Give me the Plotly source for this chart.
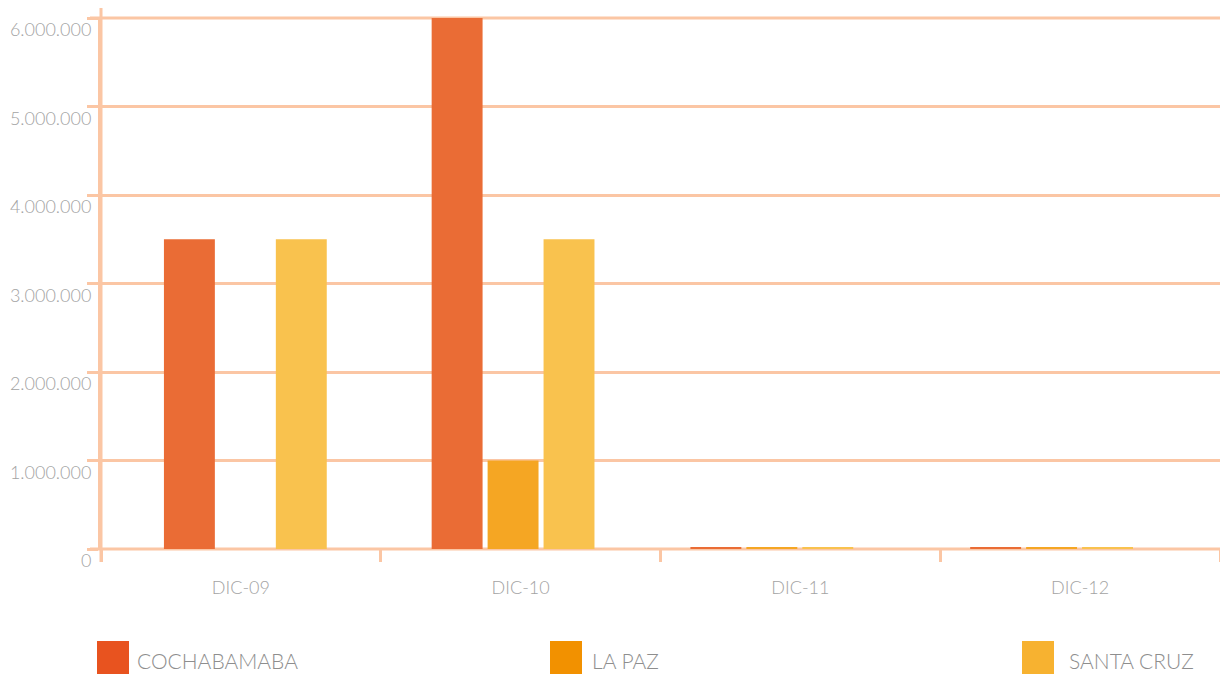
import plotly.graph_objects as go

# Period categories and department series
periods = ["DIC-09", "DIC-10", "DIC-11", "DIC-12"]
cochabamba = [3500000, 6000000, 20000, 20000]
la_paz = [0, 1000000, 20000, 20000]
santa_cruz = [3500000, 3500000, 20000, 20000]

y_ticks = [0, 1000000, 2000000, 3000000, 4000000, 5000000, 6000000]
y_tick_text = ["0", "1.000.000", "2.000.000", "3.000.000", "4.000.000", "5.000.000", "6.000.000"]

series = [
    ("COCHABAMABA", cochabamba, "#EA6C35", "#E8531F"),
    ("LA PAZ", la_paz, "#F5A623", "#F29100"),
    ("SANTA CRUZ", santa_cruz, "#F9C24E", "#F7B230"),
]

# Bar layout within each category (in category-width units)
BAR_W = 0.182
BAR_STEP = 0.2
group_start = [-0.275, -0.318, -0.393, -0.393]

GRID = "#FBC6A4"
TEXT = "#A3A3A3"
FONT = "Lato"
PLOT_W, PLOT_H = 1119, 531

fig = go.Figure()
for i, (name, vals, bar_color, _) in enumerate(series):
    fig.add_trace(go.Bar(
        x=periods, y=vals, name=name, showlegend=False,
        width=BAR_W, offset=[g + i * BAR_STEP for g in group_start],
        marker=dict(color=bar_color, line=dict(width=0)),
    ))

fig.update_layout(
    width=1220, height=674,
    margin=dict(l=101, r=0, t=18, b=125),
    paper_bgcolor="white", plot_bgcolor="white",
    barmode="overlay",
    font=dict(family=FONT, color=TEXT, size=17, weight=300),
)

fig.update_xaxes(
    type="category", showgrid=False, zeroline=False, showline=False,
    range=[-0.5, 3.5],
    ticks="outside", tickson="boundaries", ticklen=12, tickwidth=3, tickcolor=GRID,
    tickfont=dict(family=FONT, size=18, color=TEXT, weight=300), ticklabelstandoff=26,
)
fig.update_yaxes(
    range=[0, 6000000], tickvals=y_ticks, ticktext=y_tick_text,
    showgrid=True, gridcolor=GRID, gridwidth=3, zeroline=False,
    showline=True, linecolor=GRID, linewidth=3,
    ticks="outside", ticklen=11, tickwidth=3, tickcolor=GRID,
    tickfont=dict(family=FONT, size=18, color=TEXT, weight=300),
    ticklabelshift=12, ticklabelstandoff=-8,
)

# Axis line runs a little past the plotting area at both ends
fig.add_shape(type="line", xref="paper", yref="paper", x0=0, x1=0, y0=-13 / PLOT_H, y1=1 + 10 / PLOT_H,
              line=dict(color=GRID, width=3), layer="below")
# Grid lines at the bottom and top of the value range
for yv in (0, 1):
    fig.add_shape(type="line", xref="paper", yref="paper", x0=-11 / PLOT_W, x1=1, y0=yv, y1=yv,
                  line=dict(color=GRID, width=3), layer="below")

# Legend row: swatches and labels spread across the bottom
legend_x = [(97, 135), (550, 590), (1022, 1067)]
for (name, _, _, sw_color), (sx, tx) in zip(series, legend_x):
    fig.add_shape(type="rect", xref="paper", yref="paper",
                  x0=(sx - 101) / PLOT_W, x1=(sx + 32 - 101) / PLOT_W,
                  y0=(549 - 674) / PLOT_H, y1=(549 - 641) / PLOT_H,
                  line=dict(width=0), fillcolor=sw_color)
    fig.add_annotation(text=name, xref="paper", yref="paper", x=(tx - 101) / PLOT_W,
                       y=(549 - 660) / PLOT_H, xanchor="left", yanchor="middle", showarrow=False,
                       font=dict(family=FONT, size=21, color="#8E8E8E", weight=300))

fig.write_html("out.html")
